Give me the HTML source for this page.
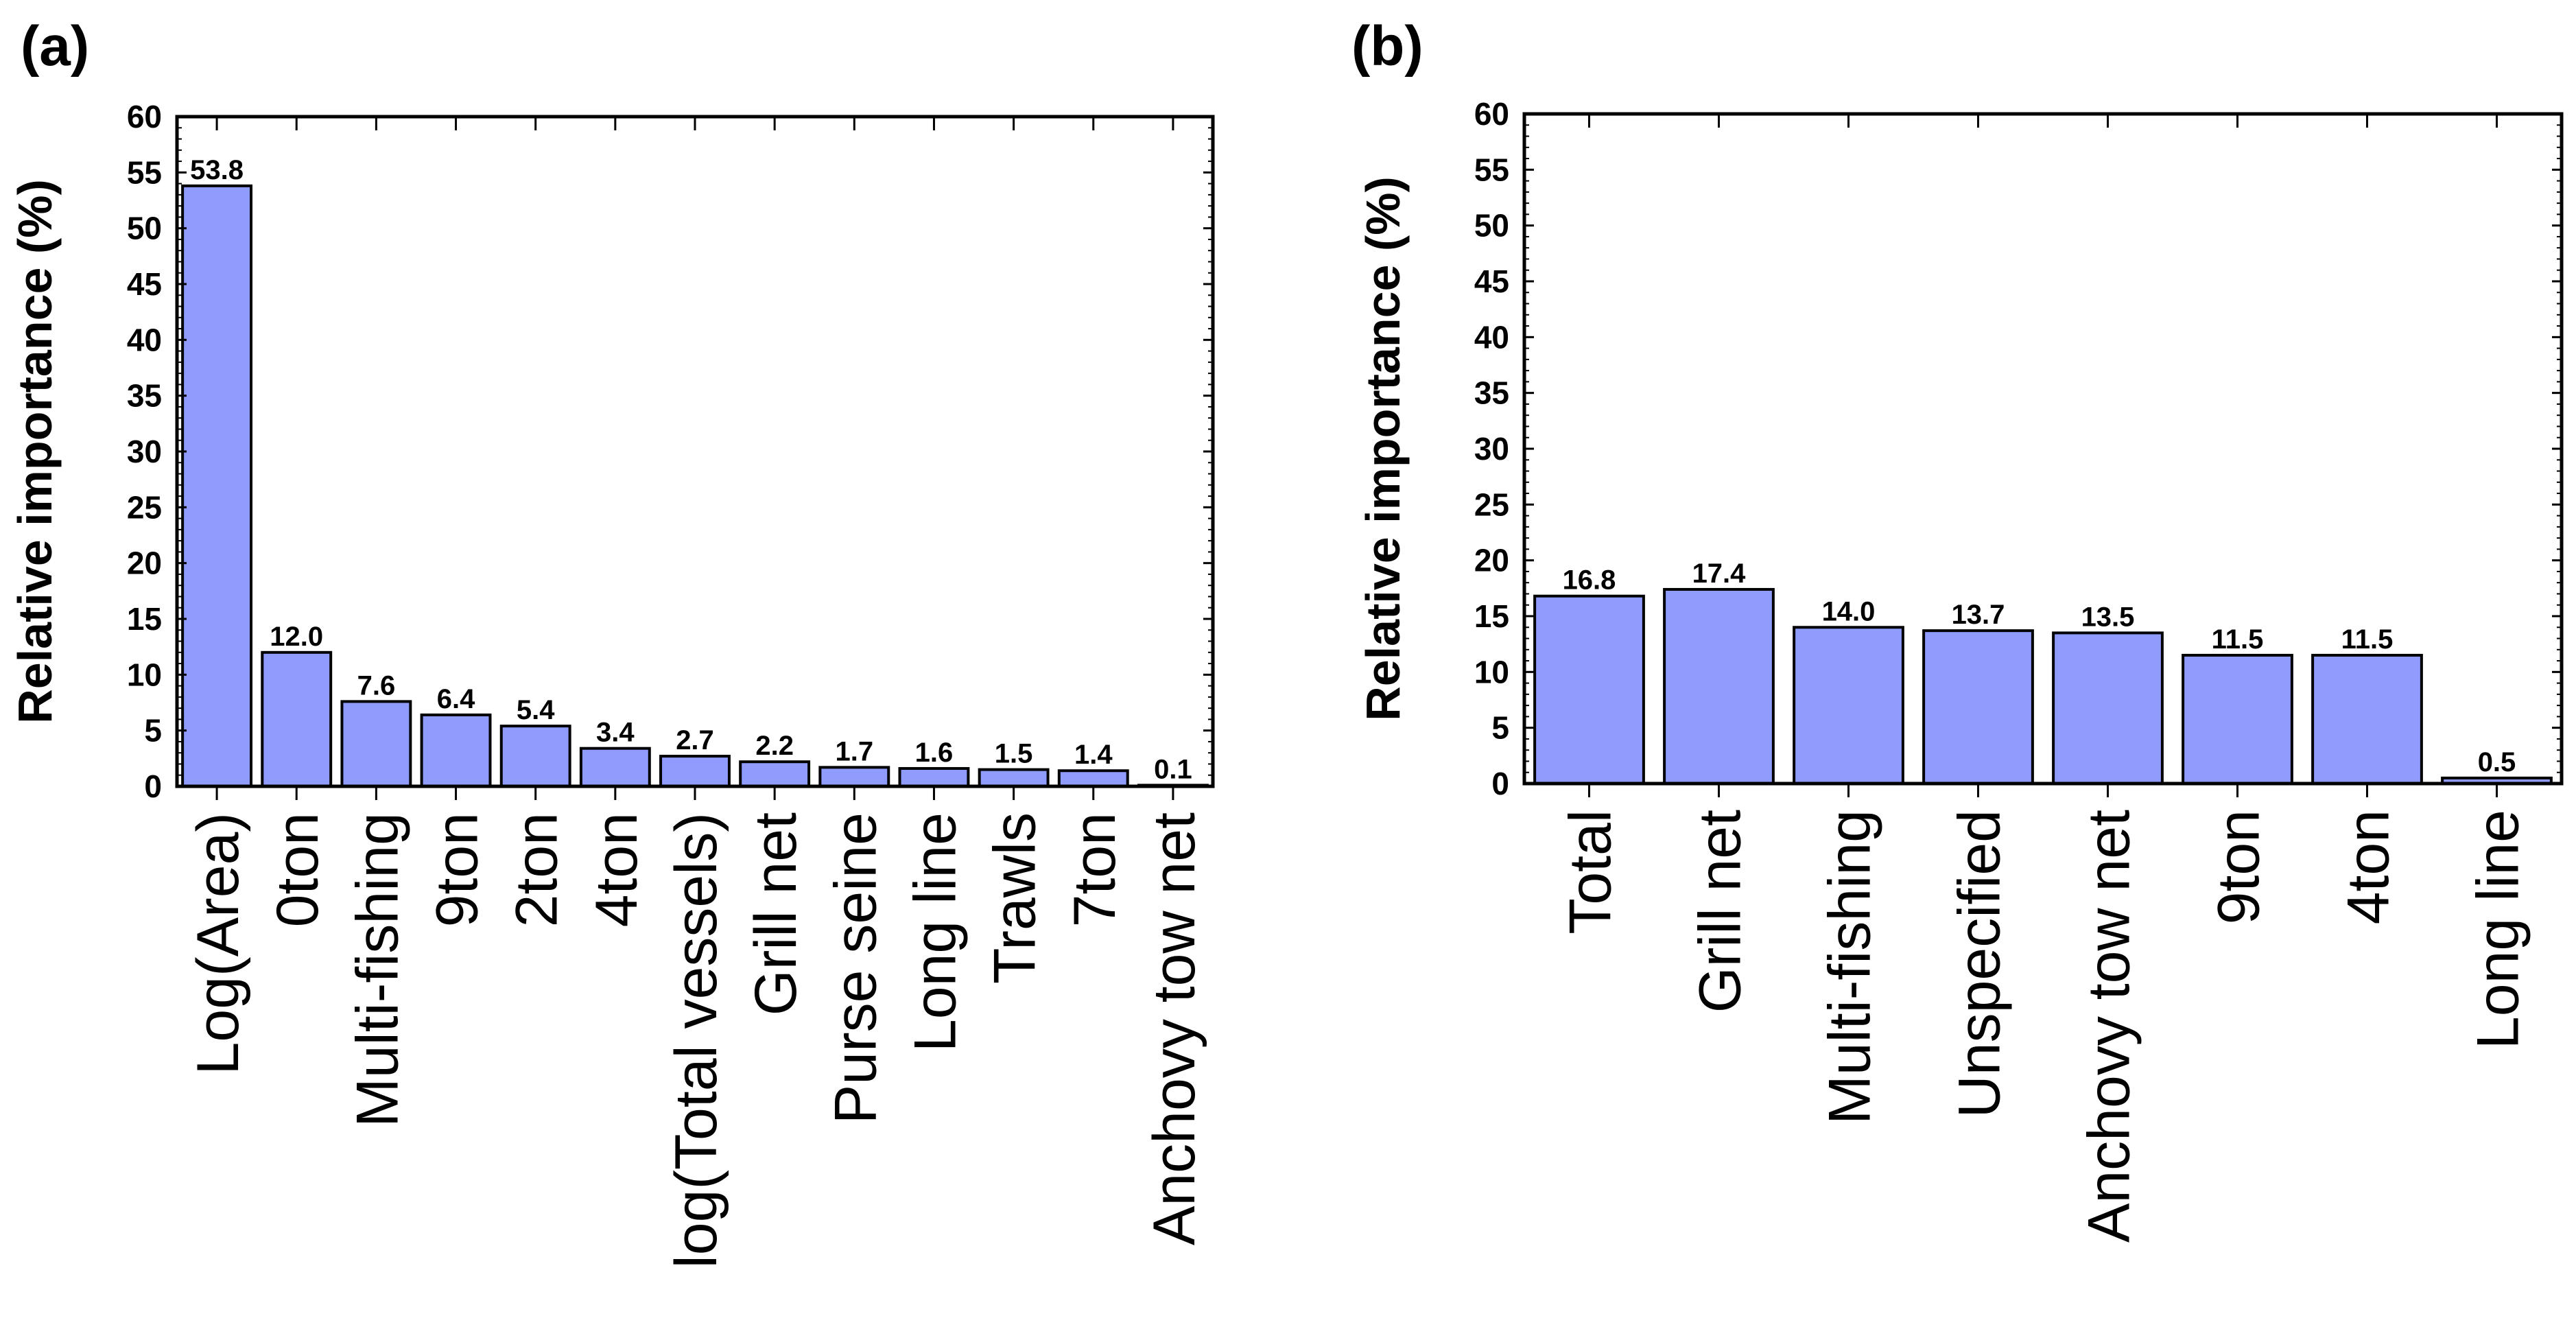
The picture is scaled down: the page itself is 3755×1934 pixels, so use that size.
<!DOCTYPE html>
<html><head><meta charset="utf-8"><style>
html,body{margin:0;padding:0;background:#fff;}
svg{display:block;}
text{font-family:"Liberation Sans",Arial,sans-serif;}
</style></head><body>
<svg id="fig" width="3755" height="1934" viewBox="0 0 3755 1934" xmlns="http://www.w3.org/2000/svg">
<text x="30" y="95" font-size="82" font-weight="bold">(a)</text>
<text x="1970" y="95" font-size="82" font-weight="bold">(b)</text>
</svg>
<script>
const catsA = ["Log(Area)","0ton","Multi-fishing","9ton","2ton","4ton","log(Total vessels)","Grill net","Purse seine","Long line","Trawls","7ton","Anchovy tow net"];
const valsA = [53.8,12.0,7.6,6.4,5.4,3.4,2.7,2.2,1.7,1.6,1.5,1.4,0.1];
const catsB = ["Total","Grill net","Multi-fishing","Unspecified","Anchovy tow net","9ton","4ton","Long line"];
const valsB = [16.8,17.4,14.0,13.7,13.5,11.5,11.5,0.5];
const yTicks = [0,5,10,15,20,25,30,35,40,45,50,55,60];

const NS = "http://www.w3.org/2000/svg";
const svg = document.getElementById('fig');
function mk(tag, attrs, parent){
  const e = document.createElementNS(NS, tag);
  for (const k in attrs) e.setAttribute(k, attrs[k]);
  (parent||svg).appendChild(e);
  return e;
}
function panel(id, cats, vals, L, R, T, B, barFrac, titleX){
  const g = mk('g', {});
  
  
  const n = cats.length, slot = (R - L) / n;
  const y = v => B - (v / 60) * (B - T);
  const xc = i => L + slot * (i + 0.5);
  cats.forEach((c, i) => {
    const bw = slot * barFrac;
    const r = mk('rect', {x: xc(i) - bw/2, y: y(vals[i]), width: bw, height: B - y(vals[i]), fill: '#8f9bfd', stroke: '#000', 'stroke-width': 4}, g);
    
    
    const t = mk('text', {x: xc(i), y: y(vals[i]) - 10, 'font-size': 40, 'font-weight': 'bold', 'text-anchor': 'middle'}, g);
    t.textContent = vals[i].toFixed(1);
    
    
    const lb = mk('text', {x: 0, y: 0, 'font-size': 86, 'text-anchor': 'end', transform: `translate(${xc(i)+31},${B+38}) rotate(-90)`}, g);
    lb.textContent = c;
    
    
    mk('line', {x1: xc(i), x2: xc(i), y1: B, y2: B + 20, stroke: '#000', 'stroke-width': 3}, g);
    mk('line', {x1: xc(i), x2: xc(i), y1: T, y2: T + 20, stroke: '#000', 'stroke-width': 3}, g);
  });
  yTicks.forEach(v => {
    mk('line', {x1: L, x2: L + 14, y1: y(v), y2: y(v), stroke: '#000', 'stroke-width': 3}, g);
    mk('line', {x1: R, x2: R - 14, y1: y(v), y2: y(v), stroke: '#000', 'stroke-width': 3}, g);
    const t = mk('text', {x: L - 22, y: y(v) + 16, 'font-size': 46, 'font-weight': 'bold', 'text-anchor': 'end'}, g);
    t.textContent = v;
    
    
  });
  for (let v = 1; v < 60; v++) {
    if (v % 5 === 0) continue;
    mk('line', {x1: L, x2: L + 7, y1: y(v), y2: y(v), stroke: '#000', 'stroke-width': 2}, g);
    mk('line', {x1: R, x2: R - 7, y1: y(v), y2: y(v), stroke: '#000', 'stroke-width': 2}, g);
  }
  const fr = mk('rect', {x: L, y: T, width: R - L, height: B - T, fill: 'none', stroke: '#000', 'stroke-width': 5}, g);
  
  
  const yt = mk('text', {x: 0, y: 0, 'font-size': 70, 'font-weight': 'bold', 'text-anchor': 'middle', transform: `translate(${titleX},${(T+B)/2}) rotate(-90)`}, g);
  yt.textContent = 'Relative importance (%)';
  
  
}
panel('panel-a', catsA, valsA, 258, 1768, 170, 1146, 0.86, 75);
panel('panel-b', catsB, valsB, 2222, 3734, 166, 1142, 0.84, 2040);
</script>
</body></html>
